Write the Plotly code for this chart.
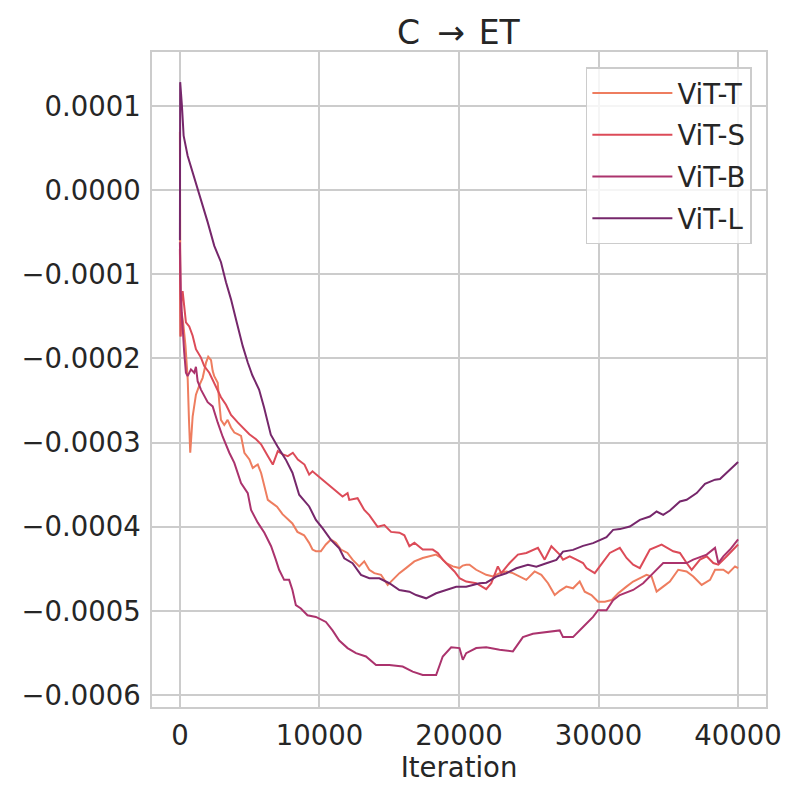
import plotly.graph_objects as go

# ---- data ----
series_names = ["ViT-T", "ViT-S", "ViT-B", "ViT-L"]
series_colors = ["#ee7d5f", "#dc4b58", "#ab336d", "#76276b"]

vit_t_x = [0, 40, 120, 250, 400, 560, 650, 740, 912, 1149, 1390, 1630, 1870, 2030, 2230, 2350, 2460, 2710, 2820, 2940,
           3180, 3420, 3660, 3900, 4140, 4380, 4620, 4980, 5220, 5580, 5820, 6050, 6300, 6540, 6960, 7350, 8060, 8420,
           8900, 9260, 9500, 9745, 10100, 10460, 10820, 11180, 11540, 12010, 12370, 12850, 13210, 13570, 13930, 14410,
           14890, 15250, 15730, 16200, 16800, 17400, 18000, 18360, 18720, 19080, 19560, 20035, 20270, 20520, 20750,
           21230, 21950, 22430, 22910, 23390, 23860, 24340, 24820, 25420, 25900, 26380, 26860, 27220, 27690, 28170,
           28650, 29010, 29490, 29970, 30450, 30930, 31410, 32000, 32480, 33080, 33440, 33800, 34160, 34630, 35110,
           35710, 36310, 36790, 37390, 37990, 38350, 38940, 39300, 39780, 40000]
vit_t_y = [0.69e-4, -1.74e-4, -1.45e-4, -1.60e-4, -1.85e-4, -2.25e-4, -2.73e-4, -3.12e-4, -2.69e-4, -2.43e-4,
           -2.32e-4, -2.23e-4, -2.05e-4, -1.98e-4, -2.02e-4, -2.15e-4, -2.21e-4, -2.29e-4, -2.52e-4, -2.73e-4,
           -2.79e-4, -2.73e-4, -2.82e-4, -2.88e-4, -2.90e-4, -2.92e-4, -3.12e-4, -3.20e-4, -3.30e-4, -3.26e-4,
           -3.36e-4, -3.50e-4, -3.68e-4, -3.71e-4, -3.76e-4, -3.85e-4, -3.96e-4, -4.06e-4, -4.10e-4, -4.19e-4,
           -4.27e-4, -4.29e-4, -4.29e-4, -4.21e-4, -4.15e-4, -4.19e-4, -4.27e-4, -4.31e-4, -4.39e-4, -4.47e-4,
           -4.41e-4, -4.51e-4, -4.55e-4, -4.57e-4, -4.69e-4, -4.63e-4, -4.55e-4, -4.49e-4, -4.41e-4, -4.37e-4,
           -4.35e-4, -4.33e-4, -4.37e-4, -4.43e-4, -4.47e-4, -4.49e-4, -4.46e-4, -4.45e-4, -4.45e-4, -4.51e-4,
           -4.57e-4, -4.59e-4, -4.55e-4, -4.53e-4, -4.55e-4, -4.59e-4, -4.63e-4, -4.53e-4, -4.57e-4, -4.67e-4,
           -4.81e-4, -4.76e-4, -4.71e-4, -4.73e-4, -4.65e-4, -4.77e-4, -4.81e-4, -4.89e-4, -4.89e-4, -4.87e-4,
           -4.79e-4, -4.71e-4, -4.65e-4, -4.60e-4, -4.57e-4, -4.59e-4, -4.77e-4, -4.71e-4, -4.65e-4, -4.51e-4,
           -4.53e-4, -4.59e-4, -4.69e-4, -4.63e-4, -4.51e-4, -4.51e-4, -4.55e-4, -4.47e-4, -4.49e-4]

vit_s_x = [0, 50, 120, 194, 431, 668, 912, 1149, 1508, 1745, 2104, 2463, 2944, 3303, 3662, 4143, 4503, 4976, 5458,
           5817, 6298, 6657, 7016, 7375, 7734, 8093, 8452, 8926, 9263, 9500, 10219, 10937, 11655, 12014, 12136, 12732,
           13213, 13572, 14168, 14649, 15130, 15726, 16085, 16444, 16804, 17400, 18118, 18477, 18835, 19195, 19676,
           20035, 20516, 21234, 21471, 21952, 22311, 22785, 23030, 23626, 24222, 24825, 25658, 26139, 26620, 27216,
           27453, 27934, 28415, 28889, 29133, 29729, 30088, 30806, 31525, 32006, 32480, 32961, 33679, 34519, 35352,
           35833, 36314, 36673, 37270, 37749, 38224, 38583, 39186, 40000]
vit_s_y = [-0.70e-4, -1.74e-4, -1.30e-4, -1.20e-4, -1.57e-4, -1.62e-4, -1.73e-4, -1.89e-4, -1.99e-4, -2.09e-4,
           -2.17e-4, -2.29e-4, -2.46e-4, -2.55e-4, -2.67e-4, -2.76e-4, -2.82e-4, -2.90e-4, -2.96e-4, -3.02e-4,
           -3.16e-4, -3.26e-4, -3.10e-4, -3.14e-4, -3.16e-4, -3.12e-4, -3.20e-4, -3.26e-4, -3.38e-4, -3.34e-4,
           -3.44e-4, -3.54e-4, -3.64e-4, -3.60e-4, -3.68e-4, -3.66e-4, -3.80e-4, -3.86e-4, -4.00e-4, -3.98e-4,
           -4.06e-4, -4.07e-4, -4.10e-4, -4.23e-4, -4.19e-4, -4.27e-4, -4.27e-4, -4.31e-4, -4.39e-4, -4.45e-4,
           -4.53e-4, -4.61e-4, -4.65e-4, -4.67e-4, -4.69e-4, -4.74e-4, -4.67e-4, -4.47e-4, -4.55e-4, -4.43e-4,
           -4.33e-4, -4.31e-4, -4.25e-4, -4.39e-4, -4.23e-4, -4.33e-4, -4.39e-4, -4.35e-4, -4.39e-4, -4.43e-4,
           -4.49e-4, -4.55e-4, -4.47e-4, -4.31e-4, -4.25e-4, -4.37e-4, -4.45e-4, -4.49e-4, -4.27e-4, -4.21e-4,
           -4.29e-4, -4.31e-4, -4.43e-4, -4.51e-4, -4.39e-4, -4.35e-4, -4.43e-4, -4.45e-4, -4.35e-4, -4.21e-4]

vit_b_x = [0, 72, 309, 431, 553, 790, 1027, 1149, 1271, 1508, 1989, 2348, 2707, 3066, 3540, 3899, 4380, 4862, 5099,
           5580, 6054, 6535, 6872, 7109, 7468, 7827, 8064, 8309, 8668, 9141, 9745, 10463, 10937, 11418, 12014, 12617,
           13335, 14053, 15008, 15963, 16681, 17400, 18118, 18362, 18835, 19439, 20035, 20272, 20516, 21234, 21952,
           22907, 23862, 24580, 25298, 26261, 27216, 27453, 28171, 28889, 29607, 29966, 30570, 31044, 31525, 32480,
           33198, 33916, 34634, 35352, 36314, 36787, 37749, 38346, 38583, 38942, 39423, 40000]
vit_b_y = [-0.62e-4, -1.30e-4, -1.93e-4, -2.17e-4, -2.21e-4, -2.13e-4, -2.17e-4, -2.10e-4, -2.27e-4, -2.37e-4,
           -2.52e-4, -2.57e-4, -2.76e-4, -2.93e-4, -3.12e-4, -3.24e-4, -3.48e-4, -3.60e-4, -3.80e-4, -3.95e-4,
           -4.07e-4, -4.23e-4, -4.39e-4, -4.51e-4, -4.63e-4, -4.63e-4, -4.75e-4, -4.93e-4, -4.97e-4, -5.05e-4,
           -5.07e-4, -5.13e-4, -5.23e-4, -5.35e-4, -5.44e-4, -5.50e-4, -5.54e-4, -5.64e-4, -5.64e-4, -5.66e-4,
           -5.72e-4, -5.76e-4, -5.76e-4, -5.76e-4, -5.54e-4, -5.43e-4, -5.44e-4, -5.58e-4, -5.50e-4, -5.44e-4,
           -5.43e-4, -5.46e-4, -5.48e-4, -5.31e-4, -5.27e-4, -5.25e-4, -5.23e-4, -5.31e-4, -5.31e-4, -5.19e-4,
           -5.07e-4, -4.99e-4, -4.99e-4, -4.87e-4, -4.81e-4, -4.75e-4, -4.67e-4, -4.55e-4, -4.43e-4, -4.43e-4,
           -4.43e-4, -4.39e-4, -4.33e-4, -4.25e-4, -4.43e-4, -4.35e-4, -4.27e-4, -4.15e-4]

vit_l_x = [0, 20, 144, 266, 553, 912, 1271, 1630, 1989, 2463, 2944, 3303, 3662, 4021, 4503, 4862, 5190, 5673, 6032,
           6513, 6987, 7590, 8064, 8545, 9263, 9745, 10219, 10822, 11418, 11777, 12373, 12976, 13572, 14290, 15008,
           15726, 16444, 16926, 17644, 18362, 19080, 19798, 20516, 21471, 21952, 22670, 23388, 24107, 24940, 25543,
           26261, 26979, 27453, 28171, 28889, 29607, 30570, 31044, 31525, 32243, 32961, 33679, 34160, 34634, 35115,
           35833, 36314, 37032, 37628, 38346, 38705, 39302, 40000]
vit_l_y = [-0.595e-4, 1.282e-4, 1.004e-4, 0.647e-4, 0.408e-4, 0.214e-4, 0.012e-4, -0.187e-4, -0.381e-4, -0.663e-4,
           -0.857e-4, -1.095e-4, -1.298e-4, -1.536e-4, -1.854e-4, -2.048e-4, -2.20e-4, -2.369e-4, -2.583e-4,
           -2.905e-4, -3.044e-4, -3.202e-4, -3.357e-4, -3.619e-4, -3.758e-4, -3.917e-4, -4.015e-4, -4.155e-4,
           -4.254e-4, -4.373e-4, -4.432e-4, -4.571e-4, -4.611e-4, -4.611e-4, -4.670e-4, -4.750e-4, -4.770e-4,
           -4.810e-4, -4.849e-4, -4.789e-4, -4.750e-4, -4.711e-4, -4.711e-4, -4.670e-4, -4.663e-4, -4.592e-4,
           -4.551e-4, -4.492e-4, -4.452e-4, -4.473e-4, -4.432e-4, -4.393e-4, -4.294e-4, -4.274e-4, -4.226e-4,
           -4.194e-4, -4.123e-4, -4.036e-4, -4.027e-4, -3.996e-4, -3.917e-4, -3.877e-4, -3.818e-4, -3.857e-4,
           -3.806e-4, -3.699e-4, -3.679e-4, -3.599e-4, -3.488e-4, -3.440e-4, -3.432e-4, -3.342e-4, -3.230e-4]

x_tick_vals = [0, 10000, 20000, 30000, 40000]
x_tick_text = ["0", "10000", "20000", "30000", "40000"]
y_tick_vals = [1e-4, 0.0, -1e-4, -2e-4, -3e-4, -4e-4, -5e-4, -6e-4]
y_tick_text = ["0.0001", "0.0000", "\u22120.0001", "\u22120.0002", "\u22120.0003",
               "\u22120.0004", "\u22120.0005", "\u22120.0006"]

title_text = "C \u2009\u2192 \u200aET"
x_label = "Iteration"

# ---- figure ----
all_x = [vit_t_x, vit_s_x, vit_b_x, vit_l_x]
all_y = [vit_t_y, vit_s_y, vit_b_y, vit_l_y]

FONT = "DejaVu Sans"
TXT = "#262626"
GRID = "#cccccc"
FS = 27.5

fig = go.Figure()
for name, color, xs, ys in zip(series_names, series_colors, all_x, all_y):
    fig.add_trace(go.Scatter(x=xs, y=ys, mode="lines", name=name, legendgroup=name,
                             line=dict(color=color, width=2)))

fig.update_layout(
    width=800, height=800,
    margin=dict(l=144, r=42, t=44, b=101),
    paper_bgcolor="white", plot_bgcolor="white",
    font=dict(family=FONT, size=FS, color=TXT),
    title=dict(text=title_text, x=0.563, xanchor="center", y=0.969, yanchor="middle",
               yref="container", font=dict(family=FONT, size=33, color=TXT)),
    showlegend=True,
    legend=dict(x=0.977, y=0.977, xanchor="right", yanchor="top",
                bgcolor="rgba(255,255,255,0.8)", bordercolor=GRID, borderwidth=1.5,
                font=dict(family=FONT, size=FS, color=TXT), tracegroupgap=3,
                itemwidth=80),
    xaxis=dict(range=[-2000, 42000], tickvals=x_tick_vals, ticktext=x_tick_text,
               showgrid=True, gridcolor=GRID, gridwidth=1.5, zeroline=False,
               showline=True, linecolor=GRID, linewidth=1.5, mirror=True,
               ticks="", ticklabelstandoff=3, automargin=False,
               title=dict(text=x_label, font=dict(family=FONT, size=FS, color=TXT), standoff=4)),
    yaxis=dict(range=[-6.14e-4, 1.64e-4], tickvals=y_tick_vals, ticktext=y_tick_text,
               showgrid=True, gridcolor=GRID, gridwidth=1.5, zeroline=False,
               showline=True, linecolor=GRID, linewidth=1.5, mirror=True,
               ticks="", ticklabelstandoff=4, automargin=False),
)

fig.write_html("out.html")
